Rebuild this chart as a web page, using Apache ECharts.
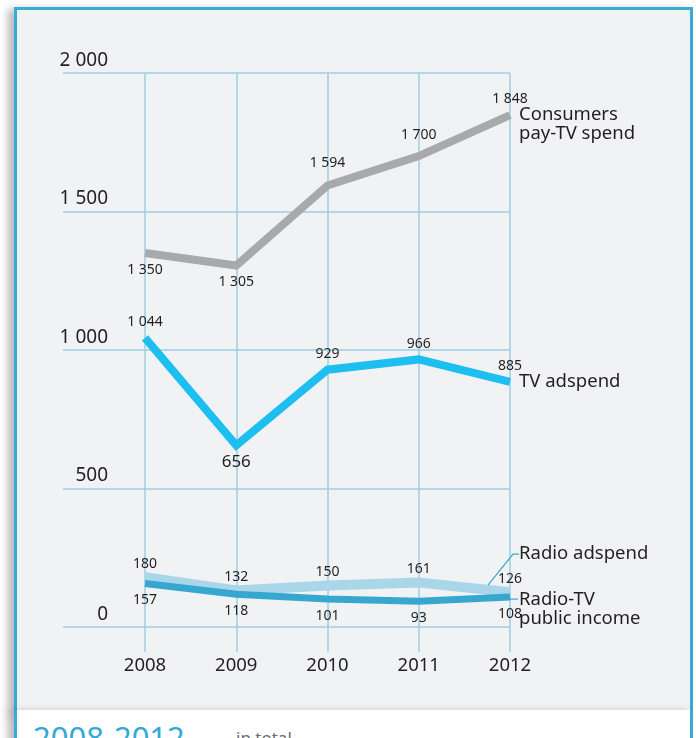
<!DOCTYPE html>
<html>
<head>
<meta charset="utf-8">
<script src="https://cdn.jsdelivr.net/npm/echarts@6/dist/echarts.min.js"></script>
<style>
  html, body { margin: 0; padding: 0; background: #fff; }
  #wrap { position: relative; width: 696px; height: 738px; overflow: hidden; }
  .panel {
    position: absolute; left: 14px; top: 7px; width: 679px; height: 706px;
    box-sizing: border-box; border: 3px solid #38acd4; background: #f1f2f4;
    box-shadow: -6px 2px 8px rgba(0,0,0,0.28);
  }
  .foot {
    position: absolute; left: 14px; top: 710px; width: 679px; height: 60px;
    box-sizing: border-box; border: 3px solid #38acd4; border-top: none; background: #fff;
    box-shadow: -6px 2px 8px rgba(0,0,0,0.28);
  }
  .foot .yrs {
    position: absolute; left: 16px; top: 12px; margin: 0;
    font: 31px/1 "Noto Sans", sans-serif; color: #35a9d3;
  }
  .foot .sub {
    position: absolute; left: 219px; top: 19px; margin: 0;
    font: 17px/1 "Noto Sans", sans-serif; color: #6d6e71;
  }
  #main { position: absolute; left: 0; top: 0; width: 696px; height: 738px; }
</style>
</head>
<body>
<div id="wrap">
  <div class="panel"></div>
  <div class="foot"><span class="yrs">2008-2012</span><span class="sub">in total</span></div>
  <div id="main"></div>
</div>
<script>
    'use strict';

    // --- данные графика ---
    const years = ['2008', '2009', '2010', '2011', '2012'];
    const payTvSpend = [1350, 1305, 1594, 1700, 1848];
    const tvAdspend = [1044, 656, 929, 966, 885];
    const radioAdspend = [180, 132, 150, 161, 126];
    const publicIncome = [157, 118, 101, 93, 108];
    const yTicks = [0, 500, 1000, 1500, 2000];

    const FONT = '"Noto Sans", "Open Sans", sans-serif';
    const GRID_COLOR = '#9dcfe3';
    const TEXT_COLOR = '#231f20';

    // число с пробелом между тысячами: 1848 -> "1 848"
    function fmt(v) {
        return String(v).replace(/\B(?=(\d{3})+(?!\d))/g, ' ');
    }

    function buildSeries(name, values, color, width, sides, distance, z, endLabel) {
        return {
            type: 'line',
            name: name,
            xAxisIndex: 1,
            yAxisIndex: 1,
            z: z,
            symbol: 'circle',
            symbolSize: 1,
            itemStyle: { color: 'rgba(0,0,0,0)' },
            lineStyle: { color: color, width: width, cap: 'butt', join: 'miter' },
            label: {
                show: true,
                distance: distance,
                fontFamily: FONT,
                fontSize: 14,
                color: TEXT_COLOR,
                formatter: p => fmt(p.value)
            },
            endLabel: Object.assign({
                show: true,
                formatter: name,
                fontFamily: FONT,
                fontSize: 18.5,
                lineHeight: 19,
                color: TEXT_COLOR,
                align: 'left',
                verticalAlign: 'middle',
                distance: 9
            }, endLabel),
            data: values.map((v, i) => ({ value: v, label: { position: sides[i] } }))
        };
    }

    const tvSeries = buildSeries('TV adspend', tvAdspend, '#1cbfef', 8,
        ['top', 'bottom', 'top', 'top', 'top'], 8, 4, { offset: [0, 0] });
    // 656 подписан крупнее
    tvSeries.data[1].label.fontSize = 17;

    const paySeries = buildSeries('Consumers\npay-TV spend', payTvSpend, '#a7a9ac', 8,
        ['bottom', 'bottom', 'top', 'top', 'top'], 9, 3, { offset: [0, 9] });
    // 2010 и 2011 подписи чуть выше
    paySeries.data[2].label.distance = 15;
    paySeries.data[3].label.distance = 14;

    const series = [
        paySeries,
        tvSeries,
        buildSeries('Radio adspend', radioAdspend, '#a9d6e8', 10,
            ['top', 'top', 'top', 'top', 'top'], 6, 2, { offset: [0, -38] }),
        buildSeries('Radio-TV\npublic income', publicIncome, '#36a8cf', 7,
            ['bottom', 'bottom', 'bottom', 'bottom', 'bottom'], 9, 5, { offset: [0, 12] })
    ];

    const chart = echarts.init(document.getElementById('main'), null, { renderer: 'canvas' });

    const option = {
        animation: false,
        backgroundColor: 'transparent',
        grid: [
            // сетка для горизонтальных линий (шире графика)
            { left: 63, right: 186, top: 73, bottom: 111 },
            // сетка для самих линий
            { left: 145, right: 186, top: 73, bottom: 111 }
        ],
        xAxis: [
            { gridIndex: 0, type: 'value', show: false, min: 0, max: 1 },
            {
                gridIndex: 1,
                type: 'category',
                data: years,
                boundaryGap: false,
                axisLine: { show: false },
                axisTick: { show: true, length: 25, alignWithLabel: true, lineStyle: { color: GRID_COLOR, width: 1.5 } },
                splitLine: { show: true, lineStyle: { color: GRID_COLOR, width: 1.5 } },
                axisLabel: { margin: 29, fontFamily: FONT, fontSize: 18.5, color: TEXT_COLOR }
            }
        ],
        yAxis: [
            {
                gridIndex: 0,
                type: 'value',
                min: yTicks[0],
                max: yTicks[yTicks.length - 1],
                interval: yTicks[1] - yTicks[0],
                axisLine: { show: false },
                axisTick: { show: false },
                splitLine: { show: true, lineStyle: { color: GRID_COLOR, width: 1.5 } },
                axisLabel: {
                    margin: -45,
                    align: 'right',
                    verticalAlign: 'bottom',
                    padding: [0, 0, 3, 0],
                    fontFamily: FONT,
                    fontSize: 19,
                    color: TEXT_COLOR,
                    formatter: v => fmt(v)
                }
            },
            {
                gridIndex: 1,
                type: 'value',
                show: false,
                min: yTicks[0],
                max: yTicks[yTicks.length - 1],
                interval: yTicks[1] - yTicks[0]
            }
        ],
        series: series
    };

    chart.setOption(option);

    // выноски к подписям радио-линий — считаем от последней точки
    const last = years.length - 1;
    const pRadio = chart.convertToPixel({ seriesIndex: 2 }, [last, radioAdspend[last]]);
    const pPublic = chart.convertToPixel({ seriesIndex: 3 }, [last, publicIncome[last]]);

    chart.setOption({
        graphic: [
            {
                type: 'polyline',
                z: 10,
                shape: { points: [[pRadio[0] - 22, pRadio[1] - 7], [pRadio[0] + 3, pRadio[1] - 38], [pRadio[0] + 9, pRadio[1] - 38]] },
                style: { stroke: '#36a8cf', lineWidth: 1.2, fill: null }
            },
            {
                type: 'line',
                z: 10,
                shape: { x1: pPublic[0], y1: pPublic[1] + 2, x2: pPublic[0] + 8, y2: pPublic[1] + 2 },
                style: { stroke: '#36a8cf', lineWidth: 1.2 }
            }
        ]
    });
</script>
</body>
</html>
